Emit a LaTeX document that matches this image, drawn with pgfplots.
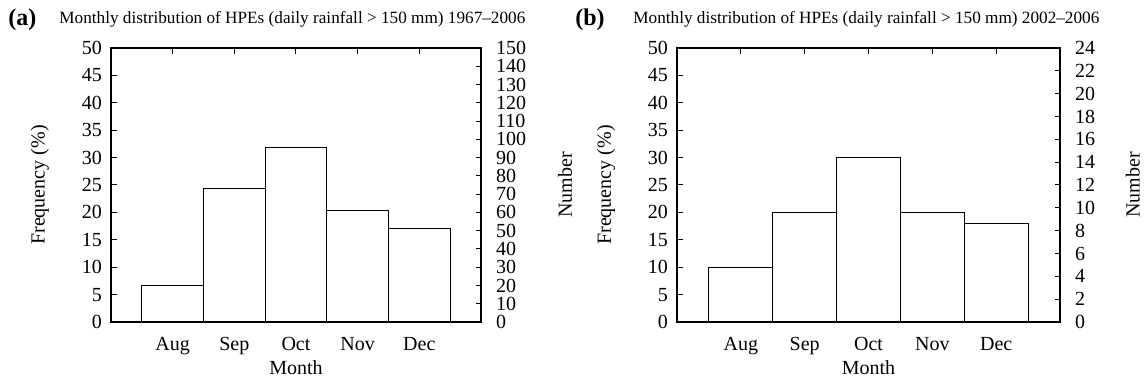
\documentclass[border=0pt]{standalone}
\usepackage{fontspec}
\setmainfont{Liberation Serif}
\usepackage{pgfplots}
\pgfplotsset{compat=1.18}
\pgfplotstableread{
x y
0 6.6
1 24.3
2 31.9
3 20.4
4 17.05
}\tableA
\pgfplotstableread{
x y
0 10
1 20
2 30
3 20
4 18
}\tableB
\pgfplotsset{
  common/.style={
    scale only axis, height=137pt, anchor=south west,
    xmin=-1, xmax=5, ymin=0,
    tick align=inside,
    tick style={black, line width=0.5pt},
    axis line style={line width=0.6pt},
    ticklabel style={font=\fontsize{10}{12}\selectfont},
    label style={font=\fontsize{10}{12}\selectfont},
    /pgf/number format/assume math mode=true,
  },
  mainax/.style={
    common, ymax=50, ytick distance=5,
    xtick={0,...,4}, xticklabels={Aug,Sep,Oct,Nov,Dec},
    ytick pos=left, xtick pos=both,
    major tick length=3pt,
    xticklabel style={yshift=-4pt},
    yticklabel style={xshift=-1pt},
    xlabel=Month, ylabel={Frequency (\%)},
    ylabel style={at={(axis description cs:#1,0.5)}, anchor=center},
    xlabel style={at={(axis description cs:0.5,-0.168)}, anchor=center},
  },
  secax/.style 2 args={
    common, axis x line=none, axis y line*=right,
    ymax=#1, ytick distance=#2,
    major tick length=2.5pt,
    yticklabel style={xshift=4pt},
    ylabel=Number,
  },
}
\begin{document}
\begin{tikzpicture}
\useasboundingbox (0pt,0pt) rectangle (572pt,191.5pt);
% ---- panel (a)
\begin{axis}[mainax=-0.192, at={(55.5pt,30.5pt)}, width=185pt]
\addplot[ybar, bar width=1, fill=white, draw=black, line width=0.5pt] table[x=x,y=y] {\tableA};
\end{axis}
\begin{axis}[secax={150}{10}, at={(55.5pt,30.5pt)}, width=185pt,
  ylabel style={at={(axis description cs:1.227,0.5)}, anchor=center}]
\addplot[draw=none] coordinates {(0,0)};
\end{axis}
\node[anchor=base west, inner sep=0pt, font=\bfseries\fontsize{12}{14}\selectfont] at (4pt,178.5pt) {(a)};
\node[anchor=base west, inner sep=0pt, font=\fontsize{8.6}{10}\selectfont] at (29.5pt,179.5pt) {Monthly distribution of HPEs (daily rainfall > 150 mm) 1967--2006};
% ---- panel (b)
\begin{axis}[mainax=-0.185, at={(338.5pt,30.5pt)}, width=191.5pt]
\addplot[ybar, bar width=1, fill=white, draw=black, line width=0.5pt] table[x=x,y=y] {\tableB};
\end{axis}
\begin{axis}[secax={24}{2}, at={(338.5pt,30.5pt)}, width=191.5pt,
  ylabel style={at={(axis description cs:1.19,0.5)}, anchor=center}]
\addplot[draw=none] coordinates {(0,0)};
\end{axis}
\node[anchor=base west, inner sep=0pt, font=\bfseries\fontsize{12}{14}\selectfont] at (287.5pt,178.5pt) {(b)};
\node[anchor=base west, inner sep=0pt, font=\fontsize{8.6}{10}\selectfont] at (316.5pt,179.5pt) {Monthly distribution of HPEs (daily rainfall > 150 mm) 2002--2006};
\end{tikzpicture}
\end{document}
